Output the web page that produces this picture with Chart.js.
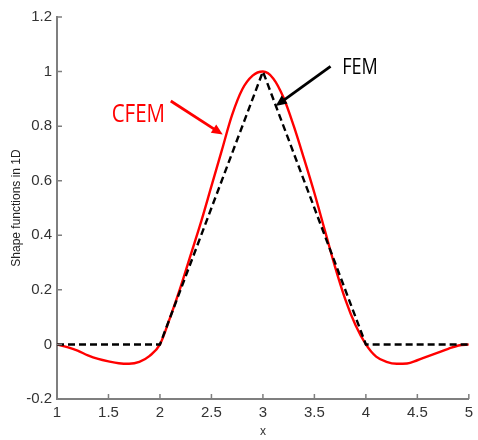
<!DOCTYPE html>
<html>
<head>
<meta charset="utf-8">
<script src="https://cdn.jsdelivr.net/npm/chart.js@4"></script>
<style>
  html, body { margin: 0; padding: 0; background: #fff; }
  #wrap { width: 478px; height: 440px; }
</style>
</head>
<body>
<div id="wrap"><canvas id="shapeChart" width="478" height="440"></canvas></div>
<script>
// CFEM shape function
const cfemX = [1.0, 1.1, 1.2, 1.3, 1.4, 1.5, 1.6, 1.7, 1.8, 1.9,
               2.0, 2.1, 2.2, 2.3, 2.4, 2.5, 2.6, 2.7, 2.8, 2.9,
               3.0, 3.1, 3.2, 3.3, 3.4, 3.5, 3.6, 3.7, 3.8, 3.9,
               4.0, 4.1, 4.2, 4.3, 4.4, 4.5, 4.6, 4.7, 4.8, 4.9, 5.0];
const cfemY = [0, -0.01, -0.023, -0.04, -0.053, -0.062, -0.069, -0.071, -0.064, -0.042,
               0, 0.10, 0.21, 0.33, 0.45, 0.58, 0.71, 0.84, 0.935, 0.985,
               1.0, 0.975, 0.905, 0.80, 0.68, 0.555, 0.42, 0.285, 0.165, 0.07,
               0, -0.045, -0.064, -0.071, -0.07, -0.058, -0.044, -0.03, -0.016, -0.004, 0];

// FEM hat function
const femX = [1, 2, 3, 4, 5];
const femY = [0, 0, 1, 0, 0];

const xTicks = [1, 1.5, 2, 2.5, 3, 3.5, 4, 4.5, 5];
const yTicks = [-0.2, 0, 0.2, 0.4, 0.6, 0.8, 1, 1.2];

const tickFont = { family: "'Liberation Sans Narrow', 'Liberation Sans', Arial, sans-serif", size: 15 };
const axisGray = '#7f7f7f';

// arrows and labels (in data coordinates)
const notes = [
    { text: 'CFEM', x: 1.79, y: 0.816, color: '#ff0000', size: 25 },
    { text: 'FEM', x: 3.943, y: 0.992, color: '#000000', size: 22 }
];
const arrows = [
    { from: [2.105, 0.892], to: [2.61, 0.769], color: '#ff0000' },
    { from: [3.657, 1.019], to: [3.124, 0.874], color: '#000000' }
];

// inward tick marks, like the matlab axes
const innerTicks = {
    id: 'innerTicks',
    afterDraw(chart) {
        const ctx = chart.ctx;
        const xs = chart.scales.x, ys = chart.scales.y;
        const area = chart.chartArea;
        ctx.save();
        ctx.strokeStyle = axisGray;
        ctx.lineWidth = 1.5;
        ctx.beginPath();
        xTicks.forEach(v => {
            const px = xs.getPixelForValue(v);
            ctx.moveTo(px, area.bottom);
            ctx.lineTo(px, area.bottom - 5);
        });
        yTicks.forEach(v => {
            const py = ys.getPixelForValue(v);
            ctx.moveTo(area.left, py);
            ctx.lineTo(area.left + 5, py);
        });
        ctx.stroke();
        ctx.restore();
    }
};

const annotations = {
    id: 'annotations',
    afterDatasetsDraw(chart) {
        const ctx = chart.ctx;
        const xs = chart.scales.x, ys = chart.scales.y;
        ctx.save();
        arrows.forEach(a => {
            const x0 = xs.getPixelForValue(a.from[0]), y0 = ys.getPixelForValue(a.from[1]);
            const x1 = xs.getPixelForValue(a.to[0]), y1 = ys.getPixelForValue(a.to[1]);
            const ang = Math.atan2(y1 - y0, x1 - x0);
            const headLen = 11, headW = 5;
            ctx.strokeStyle = a.color;
            ctx.fillStyle = a.color;
            ctx.lineWidth = 2.8;
            ctx.beginPath();
            ctx.moveTo(x0, y0);
            ctx.lineTo(x1 - Math.cos(ang) * headLen * 0.8, y1 - Math.sin(ang) * headLen * 0.8);
            ctx.stroke();
            const bx = x1 - Math.cos(ang) * headLen, by = y1 - Math.sin(ang) * headLen;
            ctx.beginPath();
            ctx.moveTo(x1, y1);
            ctx.lineTo(bx - Math.sin(ang) * headW, by + Math.cos(ang) * headW);
            ctx.lineTo(bx + Math.sin(ang) * headW, by - Math.cos(ang) * headW);
            ctx.closePath();
            ctx.fill();
        });
        notes.forEach(n => {
            const px = xs.getPixelForValue(n.x), py = ys.getPixelForValue(n.y);
            ctx.save();
            ctx.translate(px, py);
            ctx.scale(0.82, 1);
            ctx.font = n.size + "px 'Open Sans', 'Noto Sans', sans-serif";
            ctx.fillStyle = n.color;
            ctx.textAlign = 'center';
            ctx.textBaseline = 'alphabetic';
            ctx.fillText(n.text, 0, 0);
            ctx.restore();
        });
        ctx.restore();
    }
};

function fmt(v) {
    return String(Math.round(v * 10) / 10);
}

new Chart(document.getElementById('shapeChart'), {
    type: 'line',
    data: {
        datasets: [{
            label: 'FEM',
            data: femX.map((x, i) => ({ x: x, y: femY[i] })),
            borderColor: '#000000',
            borderWidth: 2.4,
            borderDash: [7, 4],
            pointRadius: 0,
            tension: 0,
            order: 1
        }, {
            label: 'CFEM',
            data: cfemX.map((x, i) => ({ x: x, y: cfemY[i] })),
            borderColor: '#ff0000',
            borderWidth: 2.4,
            pointRadius: 0,
            cubicInterpolationMode: 'monotone',
            order: 2
        }]
    },
    options: {
        responsive: false,
        animation: false,
        layout: { padding: { top: 17, right: 2, left: 0, bottom: 0 } },
        plugins: {
            legend: { display: false },
            tooltip: { enabled: false }
        },
        scales: {
            x: {
                type: 'linear',
                min: 1,
                max: 5,
                afterBuildTicks(scale) { scale.ticks = xTicks.map(v => ({ value: v })); },
                afterFit(scale) { scale.height = 41; },
                grid: { display: false, drawTicks: false },
                border: { display: true, color: axisGray, width: 2 },
                ticks: {
                    font: tickFont,
                    color: '#333333',
                    padding: 5,
                    maxRotation: 0,
                    callback: v => fmt(v)
                },
                title: {
                    display: true,
                    text: 'x',
                    font: { family: "'Liberation Sans', Arial, sans-serif", size: 12 },
                    color: '#333333',
                    padding: { top: 0, bottom: 1 }
                }
            },
            y: {
                type: 'linear',
                min: -0.2,
                max: 1.2,
                afterBuildTicks(scale) { scale.ticks = yTicks.map(v => ({ value: v })); },
                afterFit(scale) { scale.width = 57; },
                grid: { display: false, drawTicks: false },
                border: { display: true, color: axisGray, width: 2 },
                ticks: {
                    font: tickFont,
                    color: '#333333',
                    padding: 5,
                    callback: v => fmt(v)
                },
                title: {
                    display: true,
                    text: 'Shape functions in 1D',
                    font: { family: "'Liberation Sans', Arial, sans-serif", size: 12 },
                    color: '#222222',
                    padding: { top: 9, bottom: 0 }
                }
            }
        }
    },
    plugins: [innerTicks, annotations]
});
</script>
</body>
</html>
